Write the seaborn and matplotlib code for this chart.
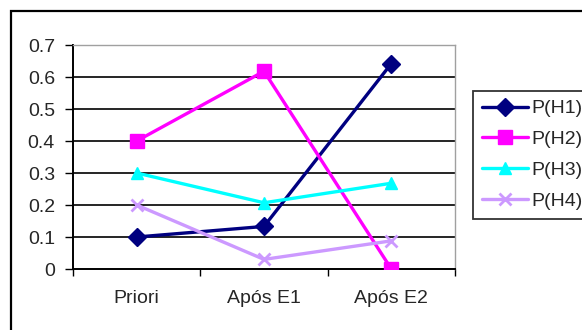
import matplotlib
matplotlib.use("Agg")
import matplotlib.pyplot as plt
from matplotlib.patches import Rectangle
import seaborn as sns
import pandas as pd

categories = ["Priori", "Após E1", "Após E2"]
series_names = ["P(H1)", "P(H2)", "P(H3)", "P(H4)"]
h1 = [0.10, 0.133, 0.642]
h2 = [0.40, 0.618, 0.0]
h3 = [0.30, 0.207, 0.268]
h4 = [0.20, 0.03, 0.088]
yticks = [0, 0.1, 0.2, 0.3, 0.4, 0.5, 0.6, 0.7]

colors = ["#000080", "#FF00FF", "#00FFFF", "#CC99FF"]
markers = ["D", "s", "^", "x"]
msizes = [9, 9.5, 8, 8]

sns.set_theme(style="white")
plt.rcParams["font.family"] = ["Liberation Sans", "DejaVu Sans"]

rows = []
for name, vals in zip(series_names, [h1, h2, h3, h4]):
    for i, v in enumerate(vals):
        rows.append({"pos": i, "value": v, "series": name})
df = pd.DataFrame(rows)

fig = plt.figure(figsize=(5.82, 3.30), dpi=100)
ax = fig.add_axes([73/582, 1-269/330, (455-73)/582, (269-45)/330])

for name, c, m, ms in zip(series_names, colors, markers, msizes):
    sub = df[df["series"] == name]
    sns.lineplot(data=sub, x="pos", y="value", ax=ax, color=c, marker=m,
                 markersize=ms, linewidth=2.4, markeredgecolor=c,
                 markeredgewidth=2 if m == "x" else 1, label=name,
                 legend=False, zorder=3)

ax.set_xlim(-0.5, 2.5)
ax.set_ylim(0, 0.7)
ax.set_yticks(yticks)
ax.set_yticklabels([f"{t:g}" for t in yticks])
ax.set_xticks(range(len(categories)))
ax.set_xticklabels(categories)
ax.set_xticks([-0.5, 0.5, 1.5, 2.5], minor=True)
ax.set_xlabel("")
ax.set_ylabel("")

for t in yticks[1:-1]:
    ax.axhline(t, color="black", linewidth=1.2, zorder=1)

ax.tick_params(axis="y", which="major", direction="out", length=6, width=1,
               color="black", pad=7, labelsize=14, left=True)
ax.tick_params(axis="x", which="major", length=0, pad=15, labelsize=14)
ax.tick_params(axis="x", which="minor", direction="out", length=5, width=1,
               color="black", bottom=True)

for s in ["left", "bottom"]:
    ax.spines[s].set_color("black")
    ax.spines[s].set_linewidth(1.4)
for s in ["top", "right"]:
    ax.spines[s].set_color("#A0A0A0")
    ax.spines[s].set_linewidth(1.0)
    ax.spines[s].set_visible(True)

handles, labels = ax.get_legend_handles_labels()
leg = fig.legend(handles, labels, loc="upper left",
                 bbox_to_anchor=(473/582, 1-91/330), bbox_transform=fig.transFigure,
                 frameon=True, fancybox=False, fontsize=14, borderaxespad=0,
                 handlelength=2.4, handletextpad=0.15, labelspacing=0.68,
                 borderpad=0.45)
leg.get_frame().set_edgecolor("black")
leg.get_frame().set_linewidth(1.3)

fig.patches.append(Rectangle((11/582, -0.2), 1.2, 1.2 - 11/330,
                             transform=fig.transFigure, fill=False,
                             edgecolor="black", linewidth=1.6, figure=fig))

fig.savefig("out.png", dpi=100)
